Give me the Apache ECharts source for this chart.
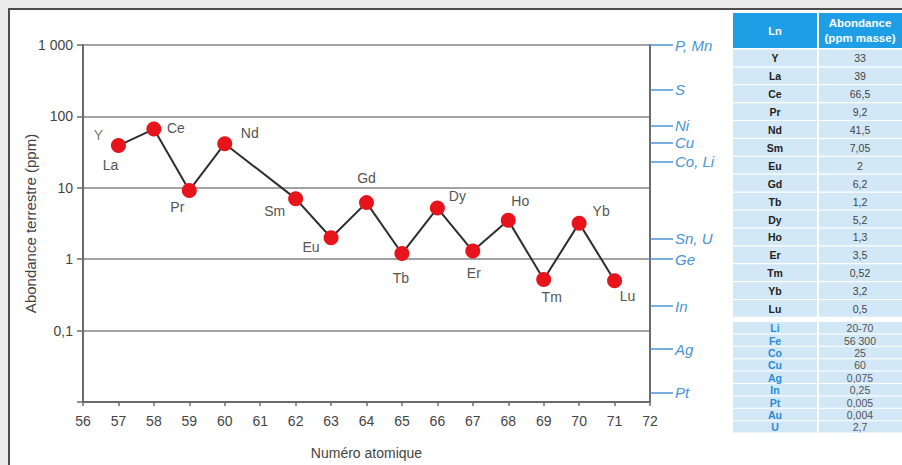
<!DOCTYPE html>
<html>
<head>
<meta charset="utf-8">
<script src="https://cdn.jsdelivr.net/npm/echarts@6.0.0/dist/echarts.min.js"></script>
<style>
html,body{margin:0;padding:0;background:#ececec;}
#c{width:902px;height:465px;}
</style>
</head>
<body>
<div id="c"></div>
<script>
// ---- Data ----
const atomicNumbers = [57, 58, 59, 60, 62, 63, 64, 65, 66, 67, 68, 69, 70, 71];
const abundances = [39, 66.5, 9.2, 41.5, 7.05, 2, 6.2, 1.2, 5.2, 1.3, 3.5, 0.52, 3.2, 0.5];
const pointLabels = ['La', 'Ce', 'Pr', 'Nd', 'Sm', 'Eu', 'Gd', 'Tb', 'Dy', 'Er', 'Ho', 'Tm', 'Yb', 'Lu'];
const yttriumX = 57;
const yttriumValue = 33;
const yttriumLabel = 'Y';

const xTicks = [56, 72];
const yLogRange = [0.01, 1000];

const refNames = ['P, Mn', 'S', 'Ni', 'Cu', 'Co, Li', 'Sn, U', 'Ge', 'In', 'Ag', 'Pt'];
const refValues = [1000, 240, 75, 43, 23, 1.95, 1, 0.22, 0.055, 0.0135];

const lnSymbols = ['Y', 'La', 'Ce', 'Pr', 'Nd', 'Sm', 'Eu', 'Gd', 'Tb', 'Dy', 'Ho', 'Er', 'Tm', 'Yb', 'Lu'];
const lnAbund = ['33', '39', '66,5', '9,2', '41,5', '7,05', '2', '6,2', '1,2', '5,2', '1,3', '3,5', '0,52', '3,2', '0,5'];
const otherSymbols = ['Li', 'Fe', 'Co', 'Cu', 'Ag', 'In', 'Pt', 'Au', 'U'];
const otherAbund = ['20-70', '56 300', '25', '60', '0,075', '0,25', '0,005', '0,004', '2,7'];

const tableHeader = ['Ln', 'Abondance', '(ppm masse)'];
const xAxisName = 'Numéro atomique';
const yAxisName = 'Abondance terrestre (ppm)';

// ---- Styling (label offsets per point) ----
const labelOffsets = [
  [-8, 19], [22, -1], [-12, 17], [25, -11], [-21, 12], [-20, 9], [0, -25],
  [-1, 24], [20, -12], [1, 22], [12, -19], [8, 18], [22, -12], [13, 15]
];

const FONT = 'Liberation Sans, Arial, sans-serif';

const chart = echarts.init(document.getElementById('c'), null, {renderer: 'svg', width: 902, height: 465});

// table graphics
const graphics = [];
graphics.push({
  type: 'rect', z: -100, silent: true,
  shape: {x: 9, y: 9, width: 920, height: 480},
  style: {fill: '#ffffff', stroke: '#4d4d4d', lineWidth: 2}
});
const c1x = 733, c1w = 84, c2x = 819, c2w = 85;
const hdrColor = '#1e9ee4', rowColor = '#d2e8f7';
graphics.push({type: 'rect', shape: {x: c1x, y: 13, width: c1w, height: 35}, style: {fill: hdrColor}});
graphics.push({type: 'rect', shape: {x: c2x, y: 13, width: c2w, height: 35}, style: {fill: hdrColor}});
graphics.push({type: 'text', x: c1x + c1w / 2, y: 31, style: {text: tableHeader[0], fill: '#fff', font: 'bold 11px ' + FONT, align: 'center', verticalAlign: 'middle'}});
graphics.push({type: 'text', x: c2x + 41, y: 23, style: {text: tableHeader[1], fill: '#fff', font: 'bold 11.5px ' + FONT, align: 'center', verticalAlign: 'middle'}});
graphics.push({type: 'text', x: c2x + 41, y: 38, style: {text: tableHeader[2], fill: '#fff', font: 'bold 11.5px ' + FONT, align: 'center', verticalAlign: 'middle'}});

const rowH1 = 17.9, top1 = 49.5;
lnSymbols.forEach((s, i) => {
  const y = top1 + i * rowH1;
  graphics.push({type: 'rect', shape: {x: c1x, y: y, width: c1w, height: rowH1 - 1.2}, style: {fill: rowColor}});
  graphics.push({type: 'rect', shape: {x: c2x, y: y, width: c2w, height: rowH1 - 1.2}, style: {fill: rowColor}});
  graphics.push({type: 'text', x: c1x + c1w / 2, y: y + rowH1 / 2, style: {text: s, fill: '#222', font: 'bold 10.5px ' + FONT, align: 'center', verticalAlign: 'middle'}});
  graphics.push({type: 'text', x: c2x + 41, y: y + rowH1 / 2, style: {text: lnAbund[i], fill: '#444', font: '10.5px ' + FONT, align: 'center', verticalAlign: 'middle'}});
});
const rowH2 = 12.4, top2 = 322;
otherSymbols.forEach((s, i) => {
  const y = top2 + i * rowH2;
  graphics.push({type: 'rect', shape: {x: c1x, y: y, width: c1w, height: rowH2 - 1}, style: {fill: rowColor}});
  graphics.push({type: 'rect', shape: {x: c2x, y: y, width: c2w, height: rowH2 - 1}, style: {fill: rowColor}});
  graphics.push({type: 'text', x: c1x + c1w / 2, y: y + rowH2 / 2, style: {text: s, fill: '#2b8bd6', font: 'bold 10.5px ' + FONT, align: 'center', verticalAlign: 'middle'}});
  graphics.push({type: 'text', x: c2x + 41, y: y + rowH2 / 2, style: {text: otherAbund[i], fill: '#555', font: '10.5px ' + FONT, align: 'center', verticalAlign: 'middle'}});
});

const refLogs = refValues.map(v => Math.log10(v));

const lnData = atomicNumbers.map((x, i) => ({
  value: [x, abundances[i]],
  label: {formatter: pointLabels[i], offset: labelOffsets[i]}
}));

const option = {
  backgroundColor: '#ececec',
  animation: false,
  textStyle: {fontFamily: FONT},
  graphic: {elements: graphics},
  grid: {left: 83, right: 252, top: 45, bottom: 54, containLabel: false},
  xAxis: {
    type: 'value', min: xTicks[0], max: xTicks[1], interval: 1,
    name: xAxisName, nameLocation: 'middle', nameGap: 44, nameMoveOverlap: false,
    nameTextStyle: {fontSize: 14, color: '#444', fontFamily: FONT},
    axisLine: {show: true, onZero: false, lineStyle: {color: '#6b6b6b', width: 2}},
    axisTick: {show: true, length: 4, lineStyle: {color: '#6b6b6b', width: 1.5}},
    axisLabel: {fontSize: 14, color: '#444', margin: 12, fontFamily: FONT},
    splitLine: {show: false}
  },
  yAxis: [{
    type: 'log', logBase: 10, min: yLogRange[0], max: yLogRange[1],
    name: yAxisName, nameLocation: 'middle', nameGap: 45, nameRotate: 90, nameMoveOverlap: false,
    nameTextStyle: {fontSize: 15, color: '#444', fontFamily: FONT},
    axisLine: {show: true, onZero: false, lineStyle: {color: '#6b6b6b', width: 2}},
    axisTick: {show: true, length: 6, lineStyle: {color: '#6b6b6b', width: 1.5}},
    axisLabel: {
      fontSize: 14, color: '#444', margin: 10, fontFamily: FONT,
      formatter: function (v) {
        const e = Math.round(Math.log10(v));
        if (e <= -2) return '';
        if (e === 3) return '1 000';
        if (e < 0) return String(Math.pow(10, e).toFixed(-e)).replace('.', ',');
        return String(Math.pow(10, e));
      }
    },
    splitLine: {show: true, lineStyle: {color: '#858585', width: 1.6}},
    minorTick: {show: false}
  }, {
    type: 'value', position: 'right', min: -2, max: 3,
    axisLine: {show: true, onZero: false, lineStyle: {color: '#6b6b6b', width: 2}},
    axisTick: {show: true, length: 23, customValues: refLogs, lineStyle: {color: '#4d93d4', width: 1.5}},
    axisLabel: {
      show: true, customValues: refLogs, hideOverlap: false,
      color: '#4a93d6', fontStyle: 'italic', fontSize: 15, margin: 25, fontFamily: FONT,
      formatter: function (v) {
        let best = 0, d = Infinity;
        refLogs.forEach((r, i) => { if (Math.abs(r - v) < d) { d = Math.abs(r - v); best = i; } });
        return refNames[best];
      }
    },
    splitLine: {show: false}
  }],
  series: [{
    type: 'line', xAxisIndex: 0, yAxisIndex: 0,
    data: lnData,
    symbol: 'circle', symbolSize: 15,
    itemStyle: {color: '#e8141c'},
    lineStyle: {color: '#2e2e2e', width: 2},
    label: {show: true, position: 'inside', fontSize: 14, color: '#555', fontFamily: FONT},
    z: 5
  }, {
    type: 'scatter', xAxisIndex: 0, yAxisIndex: 0,
    data: [{value: [yttriumX, yttriumValue]}],
    symbolSize: 0,
    label: {show: true, position: 'inside', formatter: yttriumLabel, offset: [-20, -16], fontSize: 14, color: '#555', fontFamily: FONT},
    z: 5
  }]
};
chart.setOption(option);
</script>
</body>
</html>
